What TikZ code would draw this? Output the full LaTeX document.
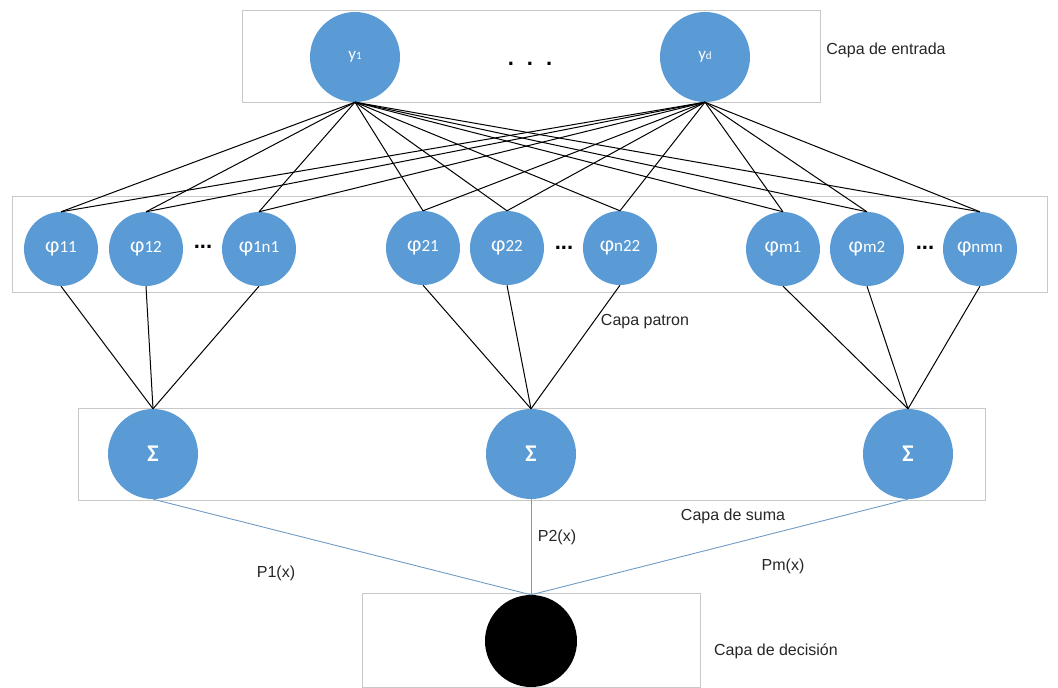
\documentclass[tikz,border=0pt]{standalone}
\usepackage{fontspec}
\setmainfont{Liberation Sans}
\newfontfamily\calib{Carlito}
\definecolor{nblue}{HTML}{5B9BD5}
\definecolor{boxgray}{HTML}{C8C8C8}
\definecolor{lineblue}{HTML}{6F9CC6}
\newcommand{\phl}[1]{{\fontsize{22}{22}\selectfont φ}{\fontsize{17}{17}\selectfont #1}}
\begin{document}
\begin{tikzpicture}[x=1pt,y=-1pt,
  layerbox/.style={draw=boxgray, line width=0.9pt, inner sep=0pt},
  neuron/.style={circle, fill=nblue, text=white, inner sep=0pt, font=\calib},
  pneuron/.style={neuron, minimum size=74pt},
  sneuron/.style={neuron, minimum size=90pt, font=\calib\bfseries\fontsize{24}{24}\selectfont},
  link/.style={line width=1pt, draw=black},
  outlink/.style={line width=0.9pt, draw=lineblue},
  lab/.style={font=\fontsize{16}{16}\selectfont, text=black!85, inner sep=0pt},
  dotsl/.style={font=\fontsize{22}{22}\selectfont\bfseries, inner sep=0pt}]
\useasboundingbox (0,0) rectangle (1058,688);
% layer boxes
\node[layerbox, minimum width=578pt, minimum height=92pt] (L1) at (531,56) {};
\node[layerbox, minimum width=1035pt, minimum height=96pt] (L2) at (529.5,244) {};
\node[layerbox, minimum width=907pt, minimum height=92pt] (L3) at (531.5,454) {};
\node[layerbox, minimum width=338pt, minimum height=94pt] (L4) at (531,640) {};
% input neurons
\node[neuron, minimum size=90pt] (y1) at (355,57) {{\fontsize{17}{17}\selectfont y}{\fontsize{11}{11}\selectfont 1}};
\node[neuron, minimum size=90pt] (yd) at (705,57) {{\fontsize{17}{17}\selectfont y}{\fontsize{11}{11}\selectfont d}};
\node[dotsl] (dt0) at (530,64) {.\hspace{13pt}.\hspace{13pt}.};
% pattern neurons
\node[pneuron] (p11) at (61,249) {\phl{11}};
\node[pneuron] (p12) at (146,249) {\phl{12}};
\node[pneuron] (p1n) at (259,249) {\phl{1n1}};
\node[pneuron] (p21) at (423,248) {\phl{21}};
\node[pneuron] (p22) at (507,248) {\phl{22}};
\node[pneuron] (p2n) at (620,248) {\phl{n22}};
\node[pneuron] (pm1) at (783,249) {\phl{m1}};
\node[pneuron] (pm2) at (867,249) {\phl{m2}};
\node[pneuron] (pmn) at (980,249) {\phl{nmn}};
\node[dotsl] (dt1) at (203,247) {...};
\node[dotsl] (dt2) at (564,248) {...};
\node[dotsl] (dt3) at (925,248) {...};
% summation neurons
\node[sneuron] (s1) at (153,454) {Σ};
\node[sneuron] (s2) at (531,454) {Σ};
\node[sneuron] (s3) at (908,454) {Σ};
% decision neuron
\node[circle, fill=black, minimum size=92pt, inner sep=0pt] (d) at (531,641) {};
% connections
\foreach \a in {y1,yd}
  \foreach \b in {p11,p12,p1n,p21,p22,p2n,pm1,pm2,pmn}
    \draw[link] (\a.south) -- (\b.north);
\foreach \b in {p11,p12,p1n} \draw[link] (\b.south) -- (s1.north);
\foreach \b in {p21,p22,p2n} \draw[link] (\b.south) -- (s2.north);
\foreach \b in {pm1,pm2,pmn} \draw[link] (\b.south) -- (s3.north);
\foreach \b in {s1,s2,s3} \draw[outlink] (\b.south) -- (d.north);
% labels
\node[lab] (t1) at (886,50) {Capa de entrada};
\node[lab] (t2) at (645,322) {Capa patron};
\node[lab] (t3) at (733,516) {Capa de suma};
\node[lab] (t4) at (776,651) {Capa de decisión};
\node[lab] (q1) at (276,573) {P1(x)};
\node[lab] (q2) at (557,537) {P2(x)};
\node[lab] (q3) at (783,566) {Pm(x)};
\end{tikzpicture}
\end{document}
